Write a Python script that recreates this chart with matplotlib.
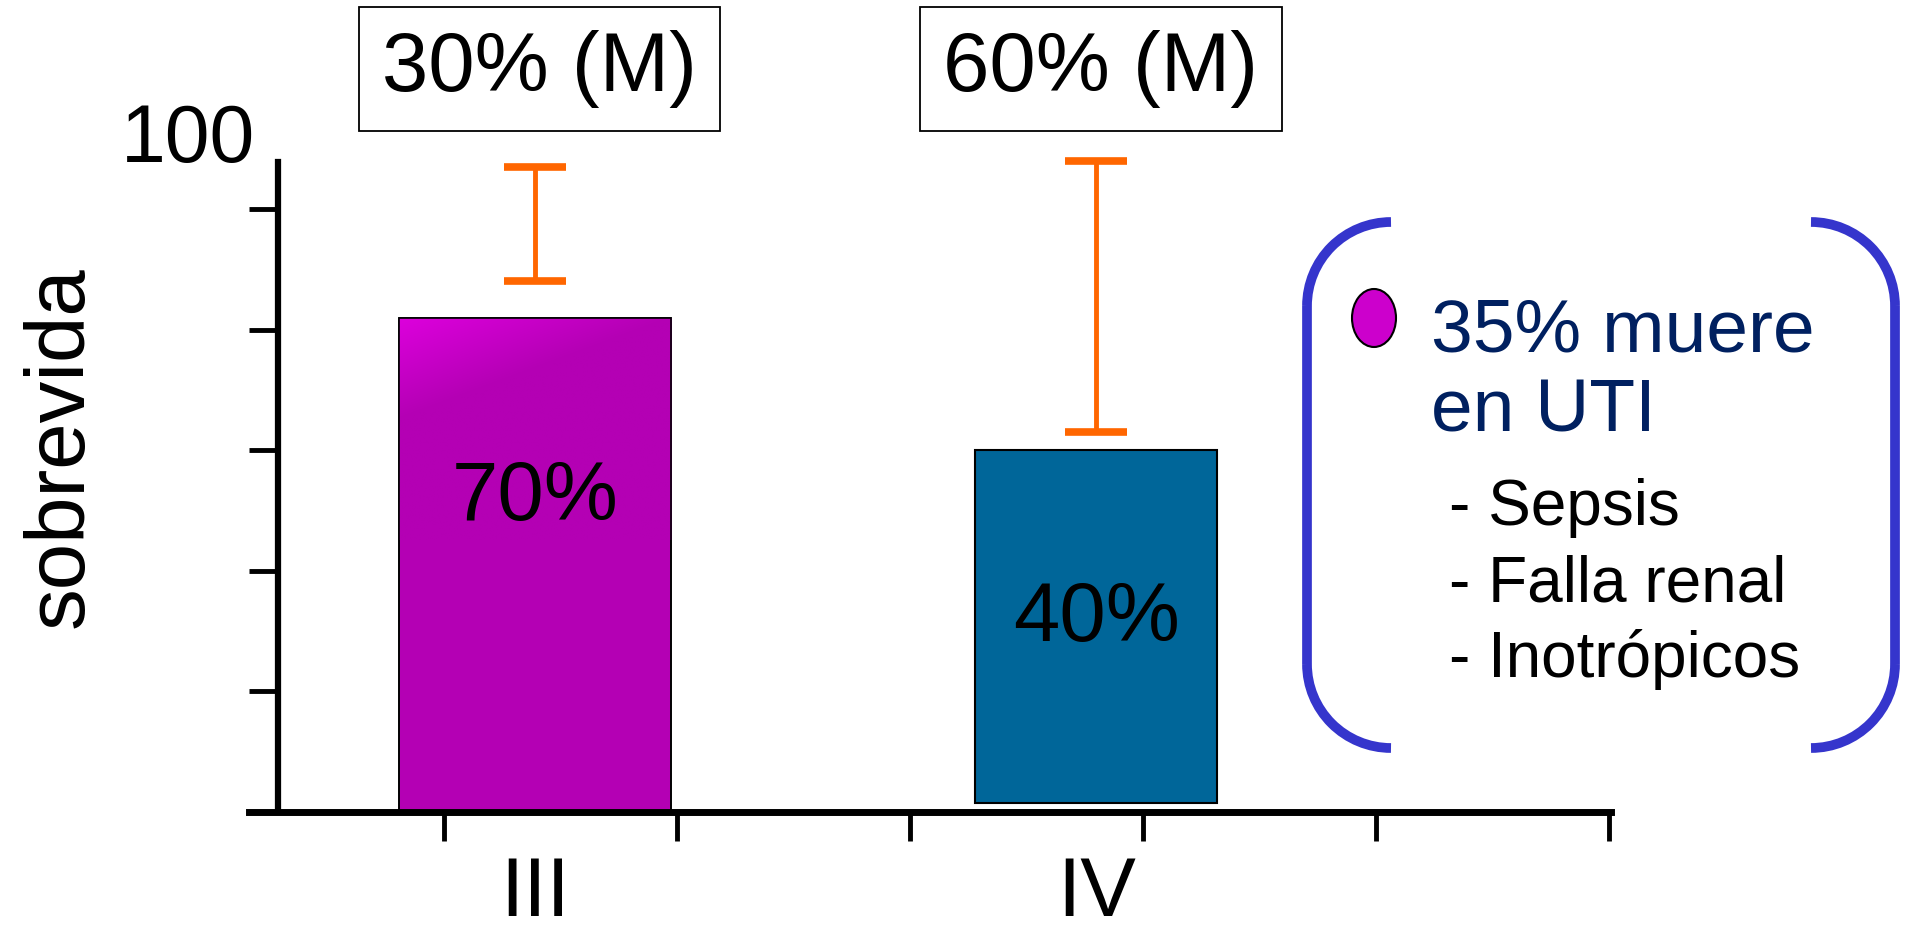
import numpy as np
import matplotlib
matplotlib.use("Agg")
import matplotlib.pyplot as plt
import matplotlib.transforms as mtransforms
from matplotlib.patches import Arc, Ellipse

plt.rcParams['font.family'] = ['Liberation Sans', 'DejaVu Sans']

# data
stages = ['III', 'IV']
bar_heights = [82, 58.5]
bar_bottoms = [0, 1.5]
bar_labels = ['70%', '40%']
mortality = ['30% (M)', '60% (M)']
err_low = [88, 63]
err_high = [107, 108]
y_ticks = [0, 20, 40, 60, 80, 100]
y_top_label = '100'
y_title = 'sobrevida'
note_title = ['35% muere', 'en UTI']
note_items = ['- Sepsis', '- Falla renal', '- Inotrópicos']

W, H = 1906, 935
fig = plt.figure(figsize=(W / 100, H / 100), dpi=100)

# axes box in pixels: x axis line 249..1611, y from 162 down to 812
ax = fig.add_axes([249 / W, 1 - 812 / H, (1611 - 249) / W, (812 - 162) / H])
ax.set_xlim(-0.838, 5.01)
ax.set_ylim(0, 107.8)

bar_x = [0.39, 2.80]
bar_w = [1.17, 1.04]

# bar III with light gradient, bar IV flat
b1 = ax.bar(bar_x[0], bar_heights[0], width=bar_w[0], bottom=bar_bottoms[0],
            color='#b400b4', edgecolor='black', linewidth=1.2, zorder=2)[0]
yy, xx = np.mgrid[0:1:60j, 0:1:60j]
t = np.clip(1 - (xx + yy * 2.2) / 1.0, 0, 1)
c0 = np.array([0xb4, 0x00, 0xb4]) / 255
c1 = np.array([0xdc, 0x00, 0xdc]) / 255
grad = c0 + (c1 - c0) * t[..., None]
x0 = bar_x[0] - bar_w[0] / 2
im = ax.imshow(grad, extent=[x0, x0 + bar_w[0], bar_bottoms[0] + bar_heights[0] * 0.55,
                             bar_bottoms[0] + bar_heights[0]],
               aspect='auto', zorder=2.1, interpolation='bilinear')
im.set_clip_path(b1)
ax.bar(bar_x[1], bar_heights[1], width=bar_w[1], bottom=bar_bottoms[1],
       color='#006699', edgecolor='black', linewidth=1.5, zorder=2)
# redraw edge of bar III over gradient
ax.bar(bar_x[0], bar_heights[0], width=bar_w[0], bottom=bar_bottoms[0],
       facecolor='none', edgecolor='black', linewidth=1.2, zorder=2.2)

lo = np.array(err_low)
hi = np.array(err_high)
ax.errorbar(bar_x, lo, yerr=[np.zeros(2), hi - lo], fmt='none', ecolor='#ff6600',
            elinewidth=3.5, capsize=22, capthick=5.5, clip_on=False, zorder=3)

label_y = [52, 32]
for x, lab, y in zip(bar_x, bar_labels, label_y):
    ax.text(x, y, lab, ha='center', va='center', fontsize=60, color='black', zorder=4)

# axis styling
for s in ['top', 'right']:
    ax.spines[s].set_visible(False)
ax.spines['left'].set_position(('data', -0.713))
ax.spines['left'].set_linewidth(4.5)
ax.spines['bottom'].set_linewidth(5)
ax.set_yticks(y_ticks)
ax.set_yticklabels([''] * len(y_ticks))
ax.tick_params(axis='y', length=21, width=3.5)
ax.set_xticks(range(6))
ax.set_xticklabels([''] * 6)
ax.tick_params(axis='x', which='major', length=21, width=3.5)
ax.set_xticks(bar_x, labels=stages, minor=True)
ax.tick_params(axis='x', which='minor', length=0, pad=31, labelsize=60)
ax.patch.set_alpha(0)

ax.text(-0.713 - 0.1, 107.8, y_top_label, ha='right', va='baseline', fontsize=58,
        clip_on=False)
fig.text(61 / W, 1 - 447 / H, y_title, rotation=90, ha='center', va='center', fontsize=60)

# mortality boxes above bars
tr = mtransforms.blended_transform_factory(ax.transData, fig.transFigure)
for x, m in zip(bar_x, mortality):
    ax.text(x + 0.02, 1 - 69 / H, m, transform=tr, ha='center', va='center', fontsize=60,
            clip_on=False,
            bbox=dict(boxstyle='square,pad=0.28', facecolor='white', edgecolor='black',
                      linewidth=1.3))

# overlay in pixel coords for the bracketed note
ov = fig.add_axes([0, 0, 1, 1])
ov.set_xlim(0, W)
ov.set_ylim(H, 0)
ov.axis('off')
ov.patch.set_alpha(0)

bc = '#3535cc'
lw = 7
r = 84
top, bot = 222, 748
lx, rx = 1391, 1811
ov.add_patch(Arc((lx, top + r), 2 * r, 2 * r, theta1=180, theta2=270, color=bc, lw=lw))
ov.add_patch(Arc((lx, bot - r), 2 * r, 2 * r, theta1=90, theta2=180, color=bc, lw=lw))
ov.plot([lx - r, lx - r], [top + r, bot - r], color=bc, lw=lw, solid_capstyle='butt')
ov.add_patch(Arc((rx, top + r), 2 * r, 2 * r, theta1=270, theta2=360, color=bc, lw=lw))
ov.add_patch(Arc((rx, bot - r), 2 * r, 2 * r, theta1=0, theta2=90, color=bc, lw=lw))
ov.plot([rx + r, rx + r], [top + r, bot - r], color=bc, lw=lw, solid_capstyle='butt')

ov.add_patch(Ellipse((1374, 318), 44, 58, facecolor='#cc00cc', edgecolor='black', lw=1.5))
for i, line in enumerate(note_title):
    ov.text(1431, 352 + i * 80, line, ha='left', va='baseline', fontsize=54, color='#002060')
for i, line in enumerate(note_items):
    ov.text(1449, 525 + i * 76, line, ha='left', va='baseline', fontsize=46, color='black')

fig.savefig('out.png', dpi=100)
